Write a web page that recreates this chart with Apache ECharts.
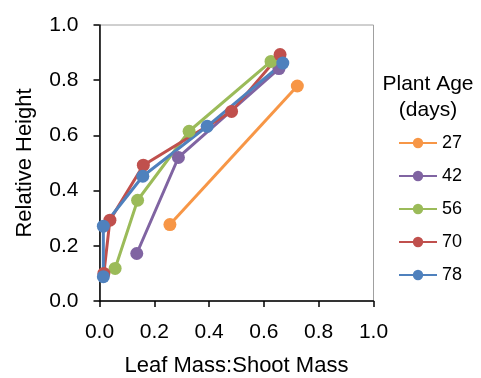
<!DOCTYPE html>
<html><head><meta charset="utf-8">
<script src="https://cdn.jsdelivr.net/npm/echarts@6/dist/echarts.min.js"></script>
<style>html,body{margin:0;padding:0;background:#fff}#c{width:481px;height:378px}</style>
</head><body><div id="c"></div>
<script>
const seriesNames = ['27', '42', '56', '70', '78'];
const colors = ['#F79646', '#8064A2', '#9BBB59', '#C0504D', '#4F81BD'];
const x27 = [0.257, 0.722];
const y27 = [0.277, 0.779];
const x42 = [0.136, 0.288, 0.655];
const y42 = [0.172, 0.520, 0.842];
const x56 = [0.057, 0.139, 0.327, 0.626];
const y56 = [0.118, 0.365, 0.615, 0.868];
const x70 = [0.016, 0.038, 0.160, 0.482, 0.659];
const y70 = [0.100, 0.293, 0.492, 0.687, 0.893];
const x78 = [0.014, 0.014, 0.158, 0.393, 0.669];
const y78 = [0.088, 0.271, 0.452, 0.633, 0.862];
const xs = [x27, x42, x56, x70, x78];
const ys = [y27, y42, y56, y70, y78];

const font = '"Liberation Sans", Arial, sans-serif';
const chart = echarts.init(document.getElementById('c'));
chart.setOption({
  animation: false,
  textStyle: {fontFamily: font},
  grid: {left: 99.5, right: 107.5, top: 25, bottom: 77, containLabel: false, outerBoundsMode: 'none',
    show: true, borderColor: '#a0a0a0', borderWidth: 1},
  xAxis: {
    type: 'value', min: 0, max: 1, interval: 0.2,
    name: 'Leaf Mass:Shoot Mass', nameLocation: 'middle', nameGap: 54,
    nameTextStyle: {fontSize: 22, color: '#000', fontFamily: font},
    axisLine: {onZero: false, lineStyle: {color: '#000', width: 1.5}},
    axisTick: {show: true, inside: false, length: 6, lineStyle: {color: '#000', width: 1.5}},
    axisLabel: {fontSize: 21, color: '#000', margin: 21, fontFamily: font, formatter: v => v.toFixed(1)},
    splitLine: {show: false}
  },
  yAxis: {
    type: 'value', min: 0, max: 1, interval: 0.2,
    name: 'Relative Height', nameLocation: 'middle', nameGap: 64,
    nameTextStyle: {fontSize: 22, color: '#000', fontFamily: font},
    axisLine: {onZero: false, lineStyle: {color: '#000', width: 1.5}},
    axisTick: {show: true, inside: false, length: 6, lineStyle: {color: '#000', width: 1.5}},
    axisLabel: {fontSize: 21, color: '#000', margin: 21, fontFamily: font, formatter: v => v.toFixed(1)},
    splitLine: {show: false}
  },
  legend: {
    orient: 'vertical', left: 398, top: 134, padding: 0,
    itemWidth: 38, itemHeight: 13, itemGap: 15,
    textStyle: {fontSize: 18, color: '#000', fontFamily: font},
    data: seriesNames
  },
  graphic: [{
    type: 'text', x: 428, y: 97,
    style: {text: 'Plant Age\n(days)', fontSize: 21, fontFamily: font, fill: '#000',
      textAlign: 'center', textVerticalAlign: 'middle', lineHeight: 26}
  }],
  series: seriesNames.map((n, i) => ({
    name: n, type: 'line', symbol: 'circle', symbolSize: 13,
    color: colors[i],
    lineStyle: {width: 3, color: colors[i]},
    itemStyle: {color: colors[i]},
    data: xs[i].map((x, j) => [x, ys[i][j]])
  }))
});
</script></body></html>
